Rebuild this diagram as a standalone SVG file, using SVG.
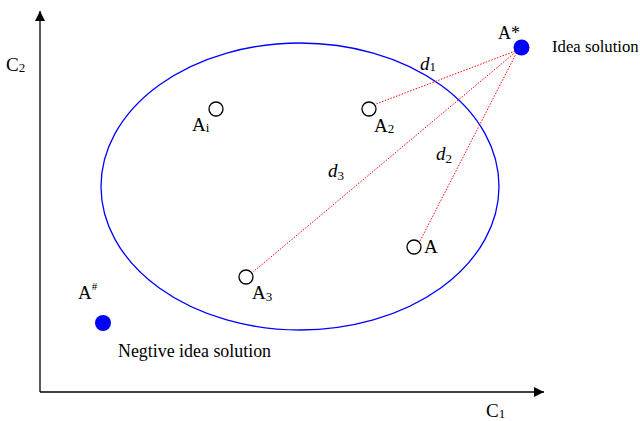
<svg xmlns="http://www.w3.org/2000/svg" width="640" height="421" viewBox="0 0 640 421">
<style>
text{font-family:"Liberation Serif","Times New Roman",serif;fill:#000}
.lbl{font-size:19px}
.sub{font-size:13px}
.it{font-style:italic}
.pt{fill:#fff;stroke:#000;stroke-width:1.3}
.dot{fill:#0000ff}
.dist{stroke:#ff0000;stroke-width:1;stroke-dasharray:1.5 1.5;fill:none}
.axis{stroke:#000;stroke-width:1.3;fill:none}
</style>
<defs>
<marker id="ah" viewBox="0 0 10 10" refX="10" refY="5" markerWidth="10" markerHeight="10" markerUnits="userSpaceOnUse" orient="auto">
<path d="M0,0 L10,5 L0,10 Z" fill="#000"/>
</marker>
</defs>
<g id="axes">
<path class="axis" d="M40,392 L40,11" marker-end="url(#ah)"/>
<path class="axis" d="M40,392 L544,392" marker-end="url(#ah)"/>
<text class="lbl" x="6" y="71">C<tspan class="sub" dy="1">2</tspan></text>
<text class="lbl" x="486" y="417">C<tspan class="sub" dy="1">1</tspan></text>
</g>
<g id="ellipse">
<ellipse cx="300" cy="186.5" rx="199" ry="143.5" fill="none" stroke="#0000ff" stroke-width="1.3"/>
</g>
<g id="connectors">
<line class="dist" x1="518" y1="50" x2="376" y2="104"/>
<line class="dist" x1="518" y1="50" x2="253" y2="272"/>
<line class="dist" x1="518" y1="50" x2="420" y2="241"/>
<text class="lbl it" x="420" y="70">d<tspan class="sub" font-style="normal" dy="1">1</tspan></text>
<text class="lbl it" x="436" y="160">d<tspan class="sub" font-style="normal" dy="3">2</tspan></text>
<text class="lbl it" x="328" y="177">d<tspan class="sub" font-style="normal" dy="3">3</tspan></text>
</g>
<g id="Astar">
<circle class="dot" cx="521.5" cy="47.5" r="8"/>
<text x="498" y="39" font-size="18">A*</text>
<text x="552" y="52" font-size="16.7">Idea solution</text>
</g>
<g id="Ai">
<circle class="pt" cx="216" cy="109" r="7"/>
<text class="lbl" x="192" y="131">A<tspan class="sub" dy="1">i</tspan></text>
</g>
<g id="A2">
<circle class="pt" cx="369" cy="109" r="7"/>
<text class="lbl" x="374" y="132">A<tspan class="sub" dy="1">2</tspan></text>
</g>
<g id="A">
<circle class="pt" cx="414" cy="247" r="7"/>
<text class="lbl" x="424" y="253">A</text>
</g>
<g id="A3">
<circle class="pt" cx="246" cy="277" r="7"/>
<text class="lbl" x="252" y="299">A<tspan class="sub" dy="2">3</tspan></text>
</g>
<g id="Ahash">
<circle class="dot" cx="103" cy="323" r="8"/>
<text class="lbl" x="78" y="299">A<tspan font-size="11" dy="-9">#</tspan></text>
<text x="118" y="357" font-size="17.9">Negtive idea solution</text>
</g>
</svg>
